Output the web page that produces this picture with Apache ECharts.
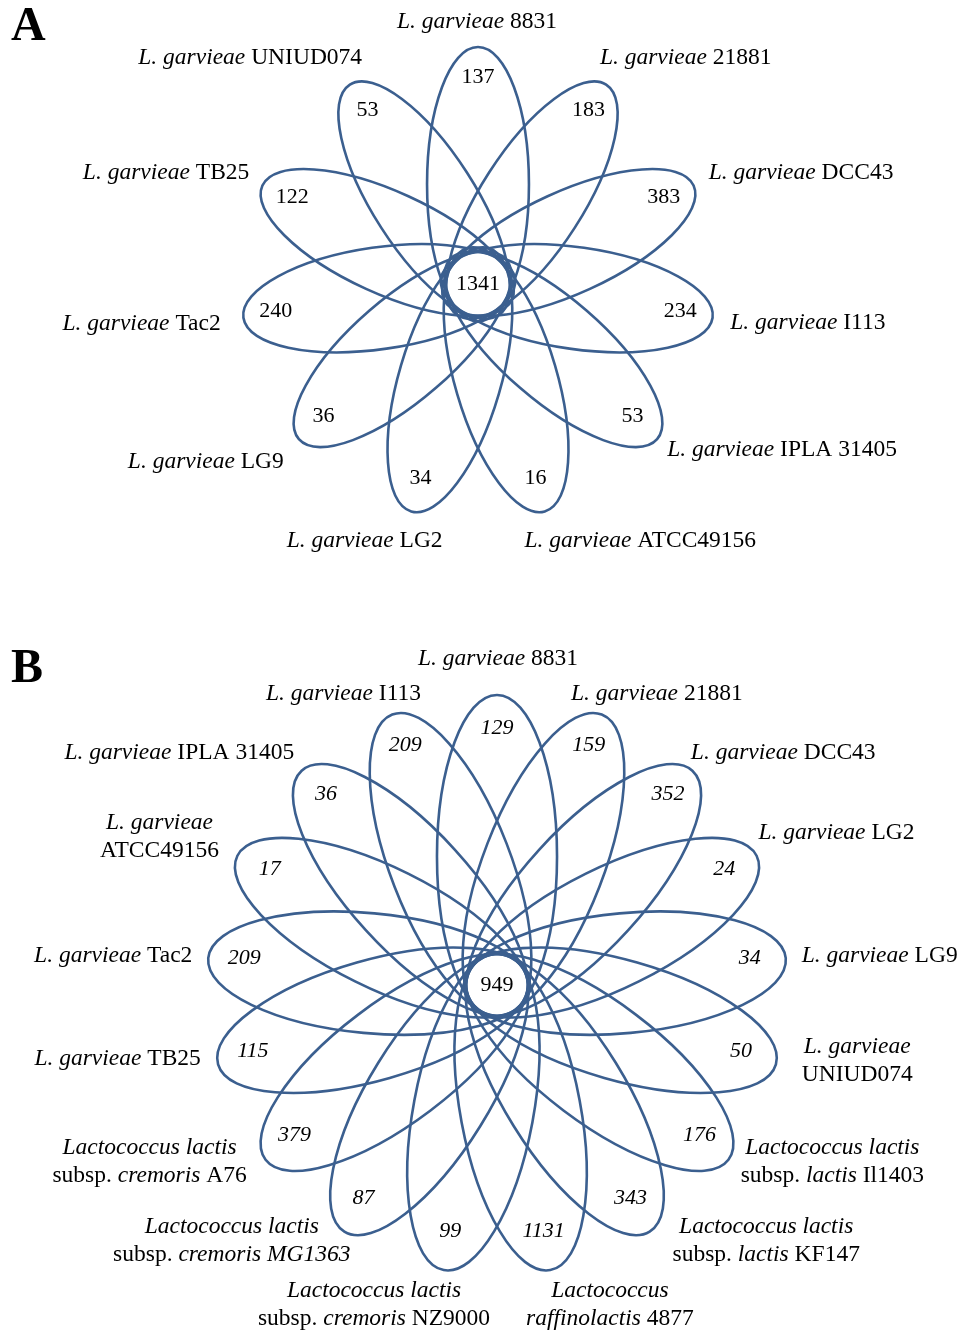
<!DOCTYPE html>
<html>
<head>
<meta charset="utf-8">
<script src="https://cdn.jsdelivr.net/npm/echarts@6/dist/echarts.min.js"></script>
<style>
  html, body { margin: 0; padding: 0; background: #ffffff; }
  #chart { width: 960px; height: 1332px; }
</style>
</head>
<body>
<div id="chart"></div>
<script>
// ---- Panel A: eleven L. garvieae genomes (clockwise from the top petal) ----
// '*...*' marks italic text, '\n' a line break.
const strainsA = [
  '*L. garvieae* 8831',
  '*L. garvieae* 21881',
  '*L. garvieae* DCC43',
  '*L. garvieae* I113',
  '*L. garvieae* IPLA 31405',
  '*L. garvieae* ATCC49156',
  '*L. garvieae* LG2',
  '*L. garvieae* LG9',
  '*L. garvieae* Tac2',
  '*L. garvieae* TB25',
  '*L. garvieae* UNIUD074'
];
const uniqueA = [137, 183, 383, 234, 53, 16, 34, 36, 240, 122, 53];
const coreA = 1341;

// ---- Panel B: seventeen Lactococcus genomes (clockwise from the top petal) ----
const strainsB = [
  '*L. garvieae* 8831',
  '*L. garvieae* 21881',
  '*L. garvieae* DCC43',
  '*L. garvieae* LG2',
  '*L. garvieae* LG9',
  '*L. garvieae*\nUNIUD074',
  '*Lactococcus lactis*\nsubsp. *lactis* Il1403',
  '*Lactococcus lactis*\nsubsp. *lactis* KF147',
  '*Lactococcus*\n*raffinolactis* 4877',
  '*Lactococcus lactis*\nsubsp. *cremoris* NZ9000',
  '*Lactococcus lactis*\nsubsp. *cremoris MG1363*',
  '*Lactococcus lactis*\nsubsp. *cremoris* A76',
  '*L. garvieae* TB25',
  '*L. garvieae* Tac2',
  '*L. garvieae*\nATCC49156',
  '*L. garvieae* IPLA 31405',
  '*L. garvieae* I113'
];
const uniqueB = [129, 159, 352, 24, 34, 50, 176, 343, 1131, 99, 87, 379, 115, 209, 17, 36, 209];
const coreB = 949;

// ---- styling and layout ----
const FONT = '"Liberation Serif", "Times New Roman", Times, serif';
const STROKE = '#3b5f8f';
const LINE_W = 2.6;

// label placement per petal: [align, dx, dy] relative to the point beyond the petal tip
const labelLayoutA = [
  ['center', -1, -5], ['left', -17, -10], ['left', -3, -4], ['left', -2, 2],
  ['left', -5, -2], ['left', -26, 10], ['right', 37, 10], ['right', 0, 10],
  ['right', -3, 3], ['right', 5, -4], ['right', 23, -10]
];
const labelLayoutB = [
  ['center', 1, -16], ['left', -38, -2], ['left', -15, -3], ['left', -16, -14],
  ['left', -4, -1], ['center', 62, -9], ['center', 88, -10], ['center', 106, -8],
  ['center', 56, 15], ['center', -66, 15], ['center', -102, -8], ['center', -100, -10],
  ['right', 2, -11], ['right', 4, -1], ['center', -60, -10], ['right', 6, -3],
  ['right', 36, -2]
];

const panels = [
  {
    strains: strainsA, unique: uniqueA, core: coreA,
    grid: { left: 241, top: 47, width: 474, height: 474 },
    inner: 0.158, halfWidth: 0.215, countR: 0.862, countDy: -2, labelR: 1.084,
    countItalic: false, layout: labelLayoutA
  },
  {
    strains: strainsB, unique: uniqueB, core: coreB,
    grid: { left: 207, top: 695, width: 580, height: 580 },
    inner: 0.113, halfWidth: 0.207, countR: 0.875, countDy: -3, labelR: 1.069,
    countItalic: true, layout: labelLayoutB
  }
];

const LABEL_SIZE = 23.5;
const COUNT_SIZE = 22;

function toRich(s) {
  return s.split('\n').map(function (line) {
    return line.split('*').map(function (seg, i) {
      return seg ? '{' + (i % 2 ? 'i' : 'r') + '|' + seg + '}' : '';
    }).join('');
  }).join('\n');
}

const richStyles = {
  r: { fontFamily: FONT, fontSize: LABEL_SIZE, fontStyle: 'normal', fill: '#000', lineHeight: 28 },
  i: { fontFamily: FONT, fontSize: LABEL_SIZE, fontStyle: 'italic', fill: '#000', lineHeight: 28 }
};

function petalRenderer(p) {
  return function (params, api) {
    const i = api.value(0);
    const n = p.unique.length;
    const th = i * 2 * Math.PI / n;
    const s = Math.sin(th), c = Math.cos(th);
    const unit = api.size([1, 1])[0];
    const semiMajor = (1 + p.inner) / 2;
    const offset = (1 - p.inner) / 2;
    const at = function (r) { return api.coord([r * s, r * c]); };
    const ctr = at(offset);
    const cnt = at(p.countR);
    const lab = at(p.labelR);
    const lay = p.layout[i];
    return {
      type: 'group',
      children: [
        {
          type: 'ellipse',
          x: ctr[0], y: ctr[1], rotation: -th, z2: 1,
          shape: { cx: 0, cy: 0, rx: p.halfWidth * unit, ry: semiMajor * unit },
          style: { fill: 'none', stroke: STROKE, lineWidth: LINE_W }
        },
        {
          type: 'text', x: cnt[0], y: cnt[1] + p.countDy, z2: 10,
          style: {
            text: String(api.value(1)), fill: '#000',
            font: (p.countItalic ? 'italic ' : '') + COUNT_SIZE + 'px ' + FONT,
            align: 'center', verticalAlign: 'middle'
          }
        },
        {
          type: 'text', x: lab[0] + lay[1], y: lab[1] + lay[2], z2: 10,
          style: {
            text: toRich(p.strains[i]), rich: richStyles,
            fill: '#000', fontFamily: FONT, fontSize: LABEL_SIZE, lineHeight: 28,
            align: lay[0], verticalAlign: 'middle'
          }
        }
      ]
    };
  };
}

function coreRenderer(params, api) {
  const pt = api.coord([api.value(0), api.value(1)]);
  return {
    type: 'text', x: pt[0], y: pt[1], z2: 10,
    style: {
      text: String(api.value(2)), fill: '#000',
      font: COUNT_SIZE + 'px ' + FONT, align: 'center', verticalAlign: 'middle'
    }
  };
}

const chart = echarts.init(document.getElementById('chart'), null, { renderer: 'canvas' });

const option = {
  backgroundColor: '#ffffff',
  animation: false,
  grid: panels.map(function (p) { return Object.assign({ containLabel: false }, p.grid); }),
  xAxis: panels.map(function (p, k) {
    return { type: 'value', gridIndex: k, min: -1, max: 1, show: false };
  }),
  yAxis: panels.map(function (p, k) {
    return { type: 'value', gridIndex: k, min: -1, max: 1, show: false };
  }),
  graphic: [
    { type: 'text', left: 11, top: 4, style: { text: 'A', font: 'bold 48px ' + FONT, fill: '#000' } },
    { type: 'text', left: 11, top: 646, style: { text: 'B', font: 'bold 48px ' + FONT, fill: '#000' } }
  ],
  series: panels.flatMap(function (p, k) {
    return [
      {
        type: 'custom', coordinateSystem: 'cartesian2d', xAxisIndex: k, yAxisIndex: k,
        silent: true, clip: false,
        data: p.unique.map(function (v, i) { return [i, v]; }),
        renderItem: petalRenderer(p)
      },
      {
        type: 'custom', coordinateSystem: 'cartesian2d', xAxisIndex: k, yAxisIndex: k,
        silent: true, clip: false,
        data: [[0, 0, p.core]],
        renderItem: coreRenderer
      }
    ];
  })
};

chart.setOption(option);
</script>
</body>
</html>
